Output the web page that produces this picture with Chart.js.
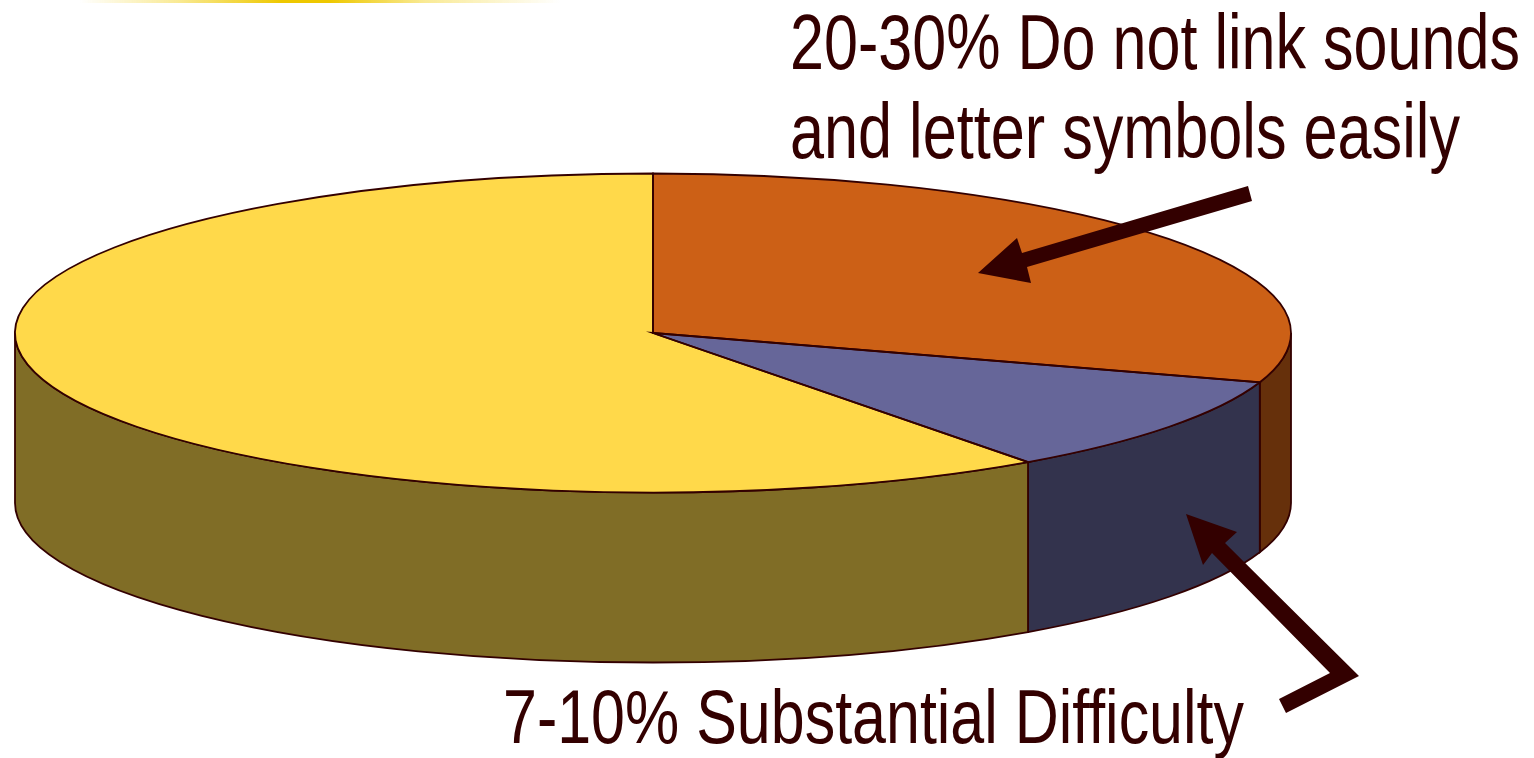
<!DOCTYPE html>
<html>
<head>
<meta charset="utf-8">
<title>Pie</title>
<script src="https://cdn.jsdelivr.net/npm/chart.js@4/dist/chart.umd.js"></script>
<style>
html, body { margin: 0; padding: 0; background: #fff; overflow: hidden; }
#wrap { position: relative; width: 1534px; height: 758px; }
#myChart { position: absolute; left: 0; top: 0; }
#glow { position: absolute; left: 80px; top: 0; width: 480px; height: 3px;
  background: linear-gradient(90deg, rgba(238,200,0,0), rgba(245,220,80,.6) 20%, #eec800 42%, #eec800 52%, rgba(245,220,80,.6) 72%, rgba(238,200,0,0)); }
#notes { position: absolute; left: 0; top: 0; }
#notes text { font-family: "Liberation Sans", Arial, sans-serif; fill: #330000; }
#notes polygon { fill: #330000; }
</style>
</head>
<body>
<div id="wrap">
  <canvas id="myChart" width="1534" height="758"></canvas>
  <div id="glow"></div>
  <svg id="notes" width="1534" height="758">
    <polygon points="1248,186 1252,201 1027,267 1031,283 978,273 1017,238 1022,253"/>
    <polygon points="1186,514 1237,532 1225,543 1359,676 1286,713 1279,699 1330,673 1212,553 1203,565"/>
    <text x="790" y="69" font-size="77" textLength="730" lengthAdjust="spacingAndGlyphs">20-30% Do not link sounds</text>
    <text x="790" y="158" font-size="77" textLength="670" lengthAdjust="spacingAndGlyphs">and letter symbols easily</text>
    <text x="503" y="743" font-size="76" textLength="741" lengthAdjust="spacingAndGlyphs">7-10% Substantial Difficulty</text>
  </svg>
</div>
<script>
var categories = ["Do not link sounds and letter symbols easily", "Substantial Difficulty", "Remaining readers"];
var values = [30, 10, 60];
var topColors = ["#cc6016", "#666699", "#ffd94a"];
var sideColors = ["#66300b", "#33334d", "#806d26"];

var squash = 0.25;   // how flat the pie is seen
var depth = 170;     // height of the side wall
var edgeColor = "#330000";

function arcProps(arc) {
    return arc.getProps(["x", "y", "startAngle", "endAngle", "outerRadius"], true);
}

// draws the side walls under the pie and flattens the circle into an ellipse
var tiltPlugin = {
    id: "tilt",
    beforeDatasetsDraw: function(chart) {
        var ctx = chart.ctx;
        var arcs = chart.getDatasetMeta(0).data;
        arcs.forEach(function(arc, i) {
            var p = arcProps(arc);
            var a = Math.max(p.startAngle, 0);
            var b = Math.min(p.endAngle, Math.PI);
            if (b <= a) return;
            var r = p.outerRadius;
            ctx.beginPath();
            ctx.ellipse(p.x, p.y, r, r * squash, 0, a, b);
            ctx.ellipse(p.x, p.y + depth, r, r * squash, 0, b, a, true);
            ctx.closePath();
            ctx.fillStyle = sideColors[i];
            ctx.fill();
            ctx.lineWidth = 1.8;
            ctx.strokeStyle = edgeColor;
            ctx.stroke();
        });
        var first = arcProps(arcs[0]);
        ctx.save();
        ctx.translate(first.x, first.y);
        ctx.scale(1, squash);
        ctx.translate(-first.x, -first.y);
    },
    afterDatasetsDraw: function(chart) {
        var ctx = chart.ctx;
        ctx.restore();
        chart.getDatasetMeta(0).data.forEach(function(arc) {
            var p = arcProps(arc);
            var r = p.outerRadius;
            ctx.beginPath();
            ctx.moveTo(p.x, p.y);
            ctx.ellipse(p.x, p.y, r, r * squash, 0, p.startAngle, p.endAngle);
            ctx.closePath();
            ctx.lineWidth = 1.8;
            ctx.strokeStyle = edgeColor;
            ctx.stroke();
        });
    }
};

var ctx = document.getElementById("myChart").getContext("2d");
var chart = new Chart(ctx, {
    type: "pie",
    data: {
        labels: categories,
        datasets: [{
            data: values,
            backgroundColor: topColors,
            borderWidth: 0,
            clip: false
        }]
    },
    options: {
        responsive: false,
        animation: false,
        radius: 638,
        layout: { padding: { left: 0, top: 0, right: 228, bottom: 92 } },
        plugins: { legend: { display: false }, tooltip: { enabled: false } }
    },
    plugins: [tiltPlugin]
});
</script>
</body>
</html>
